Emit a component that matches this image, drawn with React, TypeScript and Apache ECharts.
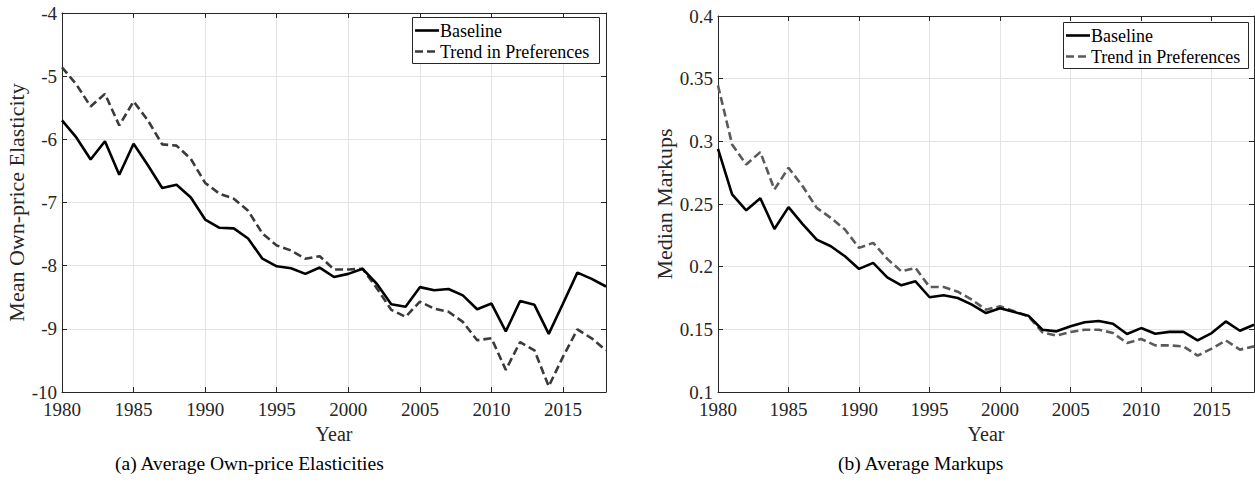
import React, { useEffect, useRef } from "react";
import * as echarts from "echarts";

const years = [
  1980, 1981, 1982, 1983, 1984, 1985, 1986, 1987, 1988, 1989,
  1990, 1991, 1992, 1993, 1994, 1995, 1996, 1997, 1998, 1999,
  2000, 2001, 2002, 2003, 2004, 2005, 2006, 2007, 2008, 2009,
  2010, 2011, 2012, 2013, 2014, 2015, 2016, 2017, 2018,
];

const elasticityBaseline = [
  -5.7, -5.97, -6.32, -6.03, -6.56, -6.07, -6.41, -6.77, -6.72, -6.92,
  -7.27, -7.4, -7.41, -7.57, -7.89, -8.01, -8.04, -8.13, -8.03, -8.18,
  -8.13, -8.05, -8.29, -8.61, -8.65, -8.34, -8.39, -8.37, -8.47, -8.69,
  -8.6, -9.04, -8.56, -8.62, -9.08, -8.6, -8.11, -8.21, -8.33,
];

const elasticityTrend = [
  -4.86, -5.13, -5.48, -5.28, -5.78, -5.4, -5.7, -6.08, -6.1, -6.31,
  -6.69, -6.86, -6.94, -7.13, -7.49, -7.68, -7.76, -7.89, -7.85, -8.06,
  -8.06, -8.05, -8.36, -8.7, -8.81, -8.57, -8.68, -8.73, -8.89, -9.18,
  -9.15, -9.65, -9.21, -9.34, -9.91, -9.44, -9.01, -9.15, -9.34,
];

const markupBaseline = [
  0.294, 0.2576, 0.245, 0.2546, 0.23, 0.2475, 0.234, 0.2216, 0.2163, 0.2083,
  0.1982, 0.203, 0.1915, 0.1851, 0.1883, 0.1756, 0.1772, 0.175, 0.1697, 0.163,
  0.1668, 0.1638, 0.1609, 0.1497, 0.1484, 0.1524, 0.1556, 0.1566, 0.1545, 0.1463,
  0.151, 0.1465, 0.148, 0.148, 0.1412, 0.147, 0.1563, 0.1489, 0.1537,
];

const markupTrend = [
  0.3446, 0.2975, 0.2815, 0.2914, 0.2616, 0.2789, 0.2642, 0.2469, 0.2389, 0.2296,
  0.215, 0.219, 0.2062, 0.1963, 0.199, 0.1838, 0.1838, 0.18, 0.1736, 0.1657,
  0.1684, 0.1644, 0.1604, 0.1476, 0.145, 0.1479, 0.1497, 0.1497, 0.1471, 0.1391,
  0.1423, 0.1372, 0.1372, 0.1364, 0.129, 0.1346, 0.1412, 0.1338, 0.1364,
];

const seriesNames = ["Baseline", "Trend in Preferences"];
const xTitle = "Year";
const leftYTitle = "Mean Own-price Elasticity";
const rightYTitle = "Median Markups";
const captions = ["(a) Average Own-price Elasticities", "(b) Average Markups"];

const FONT = "Liberation Serif";
const AXIS_COLOR = "#262626";
const GRID_COLOR = "#e3e3e3";
const LEFT_TREND = "#3a3a3a";
const RIGHT_TREND = "#5a5a5a";
const DASH = [8, 4];

function pairs(vals: number[]) {
  return years.map((y, i) => [y, vals[i]]);
}

function legendGraphic(x: number, y: number, w: number, h: number, trendColor: string) {
  const row1 = y + 13.5;
  const row2 = y + 34.5;
  return {
    type: "group",
    children: [
      {
        type: "rect",
        shape: { x: x + 0.5, y: y + 0.5, width: w, height: h },
        style: { fill: "#fff", stroke: AXIS_COLOR, lineWidth: 1 },
        z: 10,
      },
      {
        type: "line",
        shape: { x1: x + 3, y1: row1, x2: x + 27, y2: row1 },
        style: { stroke: "#000", lineWidth: 2.6 },
        z: 11,
      },
      {
        type: "line",
        shape: { x1: x + 3, y1: row2, x2: x + 27, y2: row2 },
        style: { stroke: trendColor, lineWidth: 2.6, lineDash: DASH },
        z: 11,
      },
      {
        type: "text",
        x: x + 28,
        y: row1,
        style: {
          text: seriesNames[0],
          fontFamily: FONT,
          fontSize: 18,
          fill: "#000",
          textVerticalAlign: "middle",
          verticalAlign: "middle",
        },
        z: 11,
      },
      {
        type: "text",
        x: x + 28,
        y: row2,
        style: {
          text: seriesNames[1],
          fontFamily: FONT,
          fontSize: 18,
          fill: "#000",
          textVerticalAlign: "middle",
          verticalAlign: "middle",
        },
        z: 11,
      },
    ],
  };
}

export default function App() {
  const ref = useRef<HTMLDivElement>(null);
  useEffect(() => {
    if (!ref.current) return;
    const chart = echarts.init(ref.current, undefined, { renderer: "svg" });

    const baseX = (gridIndex: number, top: boolean) => ({
      type: "value",
      gridIndex,
      position: top ? "top" : "bottom",
      min: 1980,
      max: 2018,
      interval: 5,
      name: top ? "" : xTitle,
      nameLocation: "middle",
      nameGap: 31,
      nameTextStyle: { fontFamily: FONT, fontSize: 20, color: AXIS_COLOR },
      axisLine: { show: true, onZero: false, lineStyle: { color: AXIS_COLOR, width: 1 } },
      axisTick: { show: true, inside: true, length: 5, lineStyle: { color: AXIS_COLOR } },
      axisLabel: {
        show: !top,
        showMaxLabel: false,
        margin: 10,
        lineHeight: 15,
        fontFamily: FONT,
        fontSize: 19,
        color: AXIS_COLOR,
        formatter: (v: number) => String(v),
      },
      splitLine: { show: !top, lineStyle: { color: GRID_COLOR, width: 1 } },
    });

    const baseY = (
      gridIndex: number,
      right: boolean,
      min: number,
      max: number,
      interval: number,
      name: string,
      nameGap: number
    ) => ({
      type: "value",
      gridIndex,
      position: right ? "right" : "left",
      min,
      max,
      interval,
      name: right ? "" : name,
      nameLocation: "middle",
      nameGap,
      nameTextStyle: { fontFamily: FONT, fontSize: 22, color: AXIS_COLOR },
      axisLine: { show: true, onZero: false, lineStyle: { color: AXIS_COLOR, width: 1 } },
      axisTick: { show: true, inside: true, length: 5, lineStyle: { color: AXIS_COLOR } },
      axisLabel: {
        show: !right,
        margin: 5,
        lineHeight: 15,
        fontFamily: FONT,
        fontSize: 19,
        color: AXIS_COLOR,
      },
      splitLine: { show: !right, lineStyle: { color: GRID_COLOR, width: 1 } },
    });

    const option = {
      animation: false,
      backgroundColor: "#fff",
      grid: [
        { left: 62, top: 13, width: 544, height: 379 },
        { left: 718, top: 16, width: 536, height: 376 },
      ],
      xAxis: [baseX(0, false), baseX(0, true), baseX(1, false), baseX(1, true)],
      yAxis: [
        baseY(0, false, -10, -4, 1, leftYTitle, 34),
        baseY(0, true, -10, -4, 1, leftYTitle, 34),
        baseY(1, false, 0.1, 0.4, 0.05, rightYTitle, 41),
        baseY(1, true, 0.1, 0.4, 0.05, rightYTitle, 41),
      ],
      series: [
        {
          name: seriesNames[0],
          type: "line",
          xAxisIndex: 0,
          yAxisIndex: 0,
          data: pairs(elasticityBaseline),
          symbol: "none",
          lineStyle: { color: "#000", width: 2.6 },
          itemStyle: { color: "#000" },
          z: 3,
        },
        {
          name: seriesNames[1],
          type: "line",
          xAxisIndex: 0,
          yAxisIndex: 0,
          data: pairs(elasticityTrend),
          symbol: "none",
          lineStyle: { color: LEFT_TREND, width: 2.6, type: DASH },
          itemStyle: { color: LEFT_TREND },
          z: 2,
        },
        {
          name: seriesNames[0],
          type: "line",
          xAxisIndex: 2,
          yAxisIndex: 2,
          data: pairs(markupBaseline),
          symbol: "none",
          lineStyle: { color: "#000", width: 2.6 },
          itemStyle: { color: "#000" },
          z: 3,
        },
        {
          name: seriesNames[1],
          type: "line",
          xAxisIndex: 2,
          yAxisIndex: 2,
          data: pairs(markupTrend),
          symbol: "none",
          lineStyle: { color: RIGHT_TREND, width: 2.6, type: DASH },
          itemStyle: { color: RIGHT_TREND },
          z: 2,
        },
      ],
      graphic: [
        legendGraphic(412, 17, 187, 46, LEFT_TREND),
        legendGraphic(1063, 22, 185, 46, RIGHT_TREND),
        {
          type: "text",
          x: 115,
          y: 463,
          style: {
            text: captions[0],
            fontFamily: FONT,
            fontSize: 19.5,
            fill: "#000",
            textVerticalAlign: "middle",
            verticalAlign: "middle",
          },
        },
        {
          type: "text",
          x: 838,
          y: 463,
          style: {
            text: captions[1],
            fontFamily: FONT,
            fontSize: 19.5,
            fill: "#000",
            textVerticalAlign: "middle",
            verticalAlign: "middle",
          },
        },
      ],
    };

    chart.setOption(option as any);
    return () => chart.dispose();
  }, []);

  return (
    <div
      ref={ref}
      style={{ position: "fixed", left: 0, top: 0, width: 1255, height: 483, background: "#fff" }}
    />
  );
}
